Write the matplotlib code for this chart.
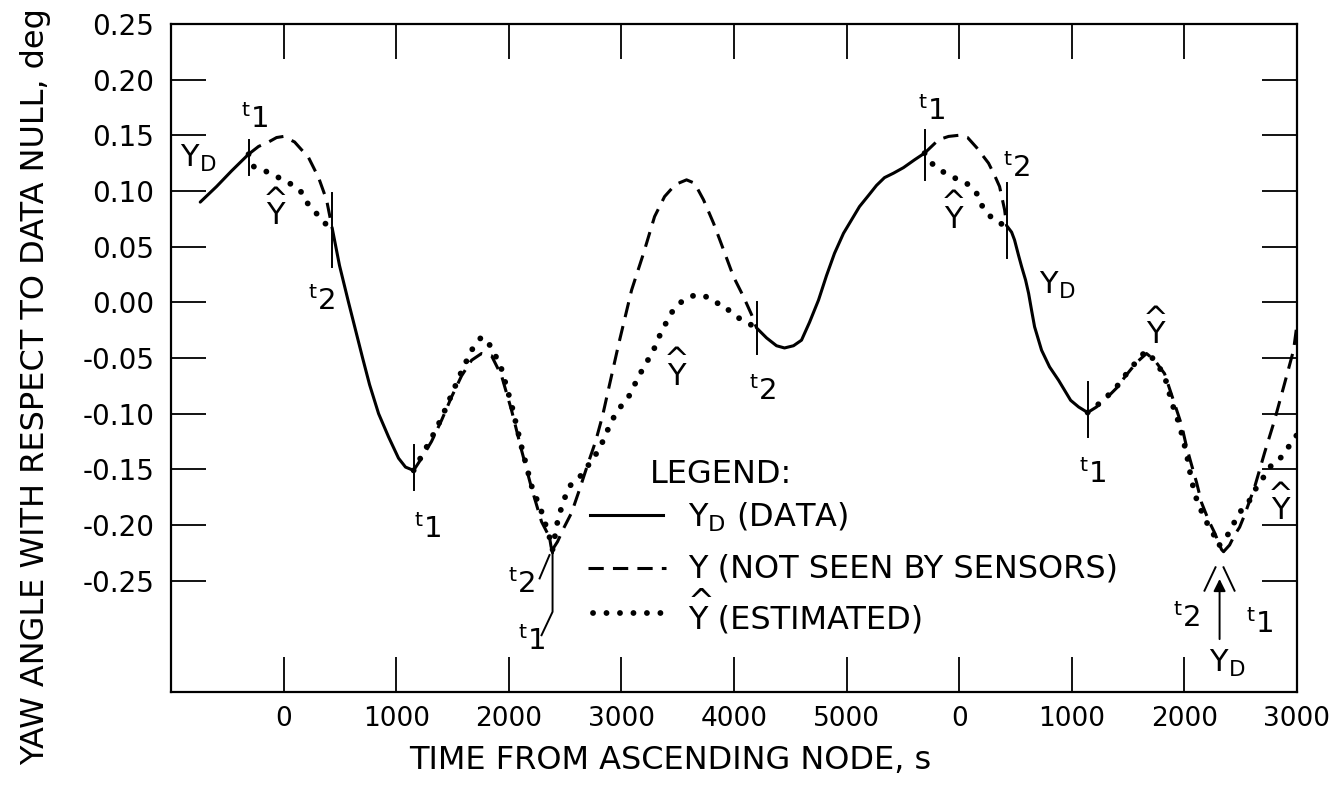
import numpy as np
import matplotlib
matplotlib.use('Agg')
import matplotlib.pyplot as plt

plt.rcParams['font.family'] = 'DejaVu Sans'
plt.rcParams['axes.unicode_minus'] = False

# time axis is continuous (s); second orbit restarts its labels at 6000 s
xtick_pos = [0, 1000, 2000, 3000, 4000, 5000, 6000, 7000, 8000, 9000]
xtick_lab = ['0', '1000', '2000', '3000', '4000', '5000', '0', '1000', '2000', '3000']
ytick_pos = [0.25, 0.20, 0.15, 0.10, 0.05, 0.00, -0.05, -0.10, -0.15, -0.20, -0.25]

# Y_D (data) segments
yd_segs = [
    ([-740, -595, -462, -311], [0.090, 0.104, 0.118, 0.133]),
    ([435, 497, 577, 702, 764, 844, 933, 1021, 1083, 1155],
     [0.065, 0.033, 0.000, -0.050, -0.074, -0.100, -0.121, -0.140, -0.148, -0.151]),
    ([2362, 2375, 2389], [-0.211, -0.219, -0.225]),
    ([4201, 4290, 4378, 4449, 4529, 4600, 4671, 4751, 4822, 4893, 4973, 5044, 5115, 5195, 5266,
      5337, 5417, 5506, 5604, 5693],
     [-0.023, -0.032, -0.039, -0.041, -0.039, -0.034, -0.018, 0.002, 0.024, 0.044, 0.062, 0.074,
      0.086, 0.096, 0.105, 0.112, 0.116, 0.121, 0.128, 0.134]),
    ([6421, 6466, 6492, 6528, 6555, 6590, 6617, 6643, 6670, 6732, 6803, 6883, 6990, 7061, 7141],
     [0.069, 0.063, 0.056, 0.042, 0.032, 0.020, 0.008, -0.007, -0.022, -0.043, -0.058, -0.070,
      -0.088, -0.094, -0.099]),
    ([8313, 8330, 8348], [-0.218, -0.222, -0.224]),
]

# Y (true, not seen by sensors) segments
y_segs = [
    ([-311, -222, -133, -62, 0, 98, 222, 311, 382, 435],
     [0.133, 0.140, 0.144, 0.148, 0.149, 0.144, 0.130, 0.112, 0.092, 0.065]),
    ([1155, 1226, 1314, 1403, 1492, 1581, 1670, 1758, 1847, 1936, 2025, 2114, 2203, 2291, 2362],
     [-0.151, -0.140, -0.125, -0.106, -0.085, -0.066, -0.052, -0.046, -0.048, -0.066, -0.097,
      -0.133, -0.167, -0.197, -0.211]),
    ([2389, 2433, 2487, 2558, 2629, 2700, 2771, 2833, 2886, 2975, 3091, 3197, 3295, 3384, 3446,
      3508, 3579, 3650, 3730, 3819, 3908, 3996, 4085, 4156, 4201],
     [-0.222, -0.215, -0.203, -0.189, -0.168, -0.146, -0.125, -0.102, -0.078, -0.038, 0.011,
      0.044, 0.077, 0.095, 0.102, 0.107, 0.110, 0.107, 0.092, 0.071, 0.047, 0.023, 0.005,
      -0.011, -0.023]),
    ([5693, 5755, 5817, 5906, 5995, 6075, 6155, 6208, 6261, 6315, 6359, 6404, 6421],
     [0.134, 0.140, 0.146, 0.149, 0.150, 0.148, 0.139, 0.132, 0.125, 0.114, 0.104, 0.083, 0.069]),
    ([7141, 7220, 7309, 7398, 7487, 7576, 7664, 7736, 7824, 7913, 7975, 8020, 8064, 8109, 8153,
      8216, 8269, 8313],
     [-0.099, -0.094, -0.086, -0.077, -0.065, -0.054, -0.046, -0.052, -0.064, -0.091, -0.110,
      -0.130, -0.146, -0.162, -0.180, -0.196, -0.207, -0.218]),
    ([8348, 8402, 8446, 8491, 8535, 8624, 8713, 8801, 8890, 8970, 9000],
     [-0.224, -0.218, -0.209, -0.202, -0.191, -0.166, -0.135, -0.106, -0.073, -0.043, -0.020]),
]

# Y-hat (estimated) segments
yhat_segs = [
    ([-311, -266, -142, -62, 53, 151, 195, 275, 346, 435],
     [0.133, 0.122, 0.117, 0.113, 0.107, 0.100, 0.091, 0.082, 0.073, 0.065]),
    ([1155, 1226, 1314, 1403, 1492, 1581, 1670, 1758, 1847, 1936, 2025, 2114, 2203, 2291, 2362],
     [-0.151, -0.138, -0.122, -0.104, -0.083, -0.062, -0.043, -0.031, -0.040, -0.060, -0.092,
      -0.130, -0.165, -0.188, -0.211]),
    ([2389, 2433, 2469, 2531, 2647, 2771, 2851, 2904, 2984, 3064, 3108, 3162, 3224, 3286, 3330,
      3375, 3419, 3473, 3552, 3641, 3739, 3819, 3908, 3970, 4041, 4130, 4201],
     [-0.222, -0.197, -0.184, -0.166, -0.155, -0.137, -0.122, -0.108, -0.095, -0.085, -0.076,
      -0.065, -0.054, -0.043, -0.032, -0.023, -0.014, -0.005, 0.002, 0.006, 0.006, 0.000,
      -0.002, -0.009, -0.014, -0.019, -0.023]),
    ([5693, 5755, 5826, 5915, 5995, 6066, 6155, 6181, 6244, 6306, 6404, 6421],
     [0.134, 0.125, 0.119, 0.114, 0.110, 0.107, 0.098, 0.090, 0.081, 0.074, 0.069, 0.069]),
    ([7141, 7220, 7309, 7398, 7487, 7576, 7655, 7736, 7824, 7895, 7957, 8020, 8064, 8109, 8162,
      8225, 8269, 8300],
     [-0.099, -0.093, -0.085, -0.076, -0.064, -0.053, -0.044, -0.052, -0.066, -0.092, -0.110,
      -0.136, -0.160, -0.177, -0.190, -0.203, -0.210, -0.215]),
    ([8313, 8366, 8420, 8464, 8526, 8579, 8624, 8704, 8775, 8837, 8890, 8952, 9000],
     [-0.218, -0.212, -0.203, -0.193, -0.184, -0.178, -0.169, -0.157, -0.146, -0.142, -0.135,
      -0.126, -0.119]),
]

# vertical event marks at t1 / t2: (time, low, high)
event_marks = [(-311, 0.114, 0.146), (426, 0.032, 0.098), (1155, -0.169, -0.128),
               (4201, -0.046, 0.000), (5693, 0.110, 0.155), (6421, 0.040, 0.107),
               (7141, -0.121, -0.072)]

# t labels: (time at left edge, value at digit baseline, subscript)
t_labels = [(-374, 0.157, '1'), (221, -0.007, '2'), (1162, -0.212, '1'), (4137, -0.088, '2'),
            (5638, 0.164, '1'), (6393, 0.113, '2'), (7068, -0.162, '1'), (7903, -0.292, '2'),
            (8551, -0.297, '1'), (1997, -0.261, '2'), (2086, -0.312, '1')]
yhat_labels = [(-71, 0.071), (3490, -0.073), (5950, 0.068), (7744, -0.036), (8854, -0.194)]
yd_labels = [(-924, 0.122), (6705, 0.008), (8215, -0.332)]

LW = 2.2
DASH = (0, (5, 3))
DOT = (0, (0.01, 2.3))
fig = plt.figure(figsize=(13.43, 7.86), dpi=100)
ax = fig.add_axes([0.1273, 0.1196, 0.8384, 0.8499])

for t, v in yd_segs:
    ax.plot(t, v, color='black', lw=LW, solid_capstyle='round')
for t, v in y_segs:
    ax.plot(t, v, color='black', lw=LW, linestyle=DASH)
for t, v in yhat_segs:
    ax.plot(t, v, color='black', lw=4.2, linestyle=DOT, dash_capstyle='round')

for t, lo, hi in event_marks:
    ax.plot([t, t], [lo, hi], color='black', lw=1.4)

# leader lines near the minima
ax.plot([2389, 2389, 2291], [-0.225, -0.278, -0.299], color='black', lw=1.4)
ax.plot([2274, 2362], [-0.248, -0.227], color='black', lw=1.4)
ax.plot([8179, 8277], [-0.259, -0.238], color='black', lw=1.4)
ax.plot([8446, 8348], [-0.259, -0.238], color='black', lw=1.4)
ax.annotate('', xy=(8313, -0.246), xytext=(8313, -0.305),
            arrowprops=dict(arrowstyle='-|>', color='black', lw=1.4, mutation_scale=18))

FS = 22

for x, y, n in t_labels:
    ax.text(x, y, r'$\mathregular{{}^{t}%s}$' % n, fontsize=21, ha='left', va='baseline')
for x, y in yhat_labels:
    ax.annotate('^\nY', (x, y), xytext=(0, -5), textcoords='offset points', fontsize=FS,
                ha='center', va='bottom', multialignment='center', linespacing=0.4)
for x, y in yd_labels:
    ax.text(x, y, r'$\mathregular{Y_D}$', fontsize=FS, ha='left', va='baseline')

# legend block
LFS = 23
ax.text(0.425, 0.313, 'LEGEND:', transform=ax.transAxes, fontsize=LFS, va='baseline')
ax.plot([0.372, 0.437], [0.265, 0.265], transform=ax.transAxes, color='black', lw=LW)
ax.plot([0.370, 0.440], [0.186, 0.186], transform=ax.transAxes, color='black', lw=LW,
        linestyle=DASH)
ax.plot([0.375, 0.440], [0.118, 0.118], transform=ax.transAxes, color='black', lw=4.2,
        linestyle=DOT, dash_capstyle='round')
ax.text(0.459, 0.247, r'$\mathregular{Y_D}$ (DATA)', transform=ax.transAxes, fontsize=LFS,
        va='baseline')
ax.text(0.459, 0.171, 'Y (NOT SEEN BY SENSORS)', transform=ax.transAxes, fontsize=LFS,
        va='baseline')
ax.annotate('^\nY (ESTIMATED)', (0.459, 0.096), xycoords='axes fraction', xytext=(0, -5.5),
            textcoords='offset points', fontsize=LFS, ha='left', va='bottom',
            multialignment='left', linespacing=0.4)

ax.set_xlim(-1000, 9000)
ax.set_ylim(-0.35, 0.25)
ax.set_xticks(xtick_pos)
ax.set_xticklabels(xtick_lab, fontsize=19)
ax.set_yticks(ytick_pos)
ax.set_yticklabels(['%.2f' % v for v in ytick_pos], fontsize=20)
ax.tick_params(direction='in', length=25, width=1.3, top=True, right=True, pad=10)
ax.tick_params(axis='y', pad=12)
for s in ax.spines.values():
    s.set_linewidth(1.6)

ax.set_xlabel('TIME FROM ASCENDING NODE, s', fontsize=23)
ax.set_ylabel('YAW ANGLE WITH RESPECT TO DATA NULL, deg', fontsize=23)
ax.xaxis.set_label_coords(0.443, -0.079)
ax.yaxis.set_label_coords(-0.106, 0.457)

fig.savefig('out.png', dpi=100)
